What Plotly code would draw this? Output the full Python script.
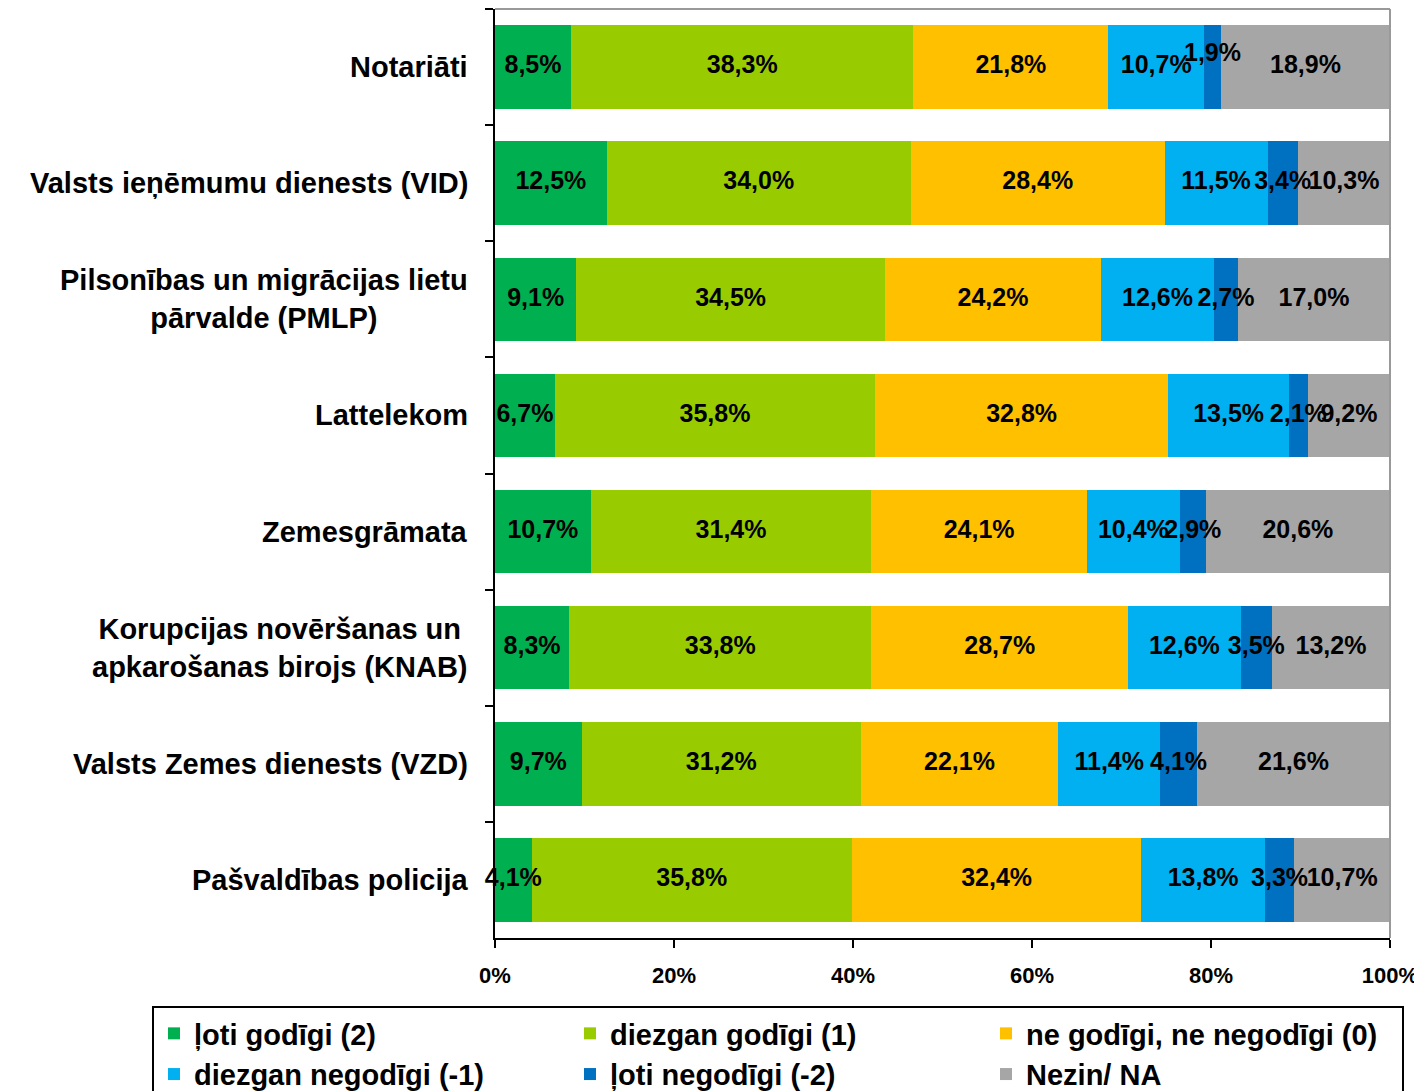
import plotly.graph_objects as go

categories = [
    "Notariāti",
    "Valsts ieņēmumu dienests (VID)",
    "Pilsonības un migrācijas lietu<br>pārvalde (PMLP)",
    "Lattelekom",
    "Zemesgrāmata",
    "Korupcijas novēršanas un<br>apkarošanas birojs (KNAB)",
    "Valsts Zemes dienests (VZD)",
    "Pašvaldības policija",
]

series_names = [
    "ļoti godīgi (2)",
    "diezgan godīgi (1)",
    "ne godīgi, ne negodīgi (0)",
    "diezgan negodīgi (-1)",
    "ļoti negodīgi (-2)",
    "Nezin/ NA",
]

loti_godigi = [8.5, 12.5, 9.1, 6.7, 10.7, 8.3, 9.7, 4.1]
diezgan_godigi = [38.3, 34.0, 34.5, 35.8, 31.4, 33.8, 31.2, 35.8]
ne_godigi_ne_negodigi = [21.8, 28.4, 24.2, 32.8, 24.1, 28.7, 22.1, 32.4]
diezgan_negodigi = [10.7, 11.5, 12.6, 13.5, 10.4, 12.6, 11.4, 13.8]
loti_negodigi = [1.9, 3.4, 2.7, 2.1, 2.9, 3.5, 4.1, 3.3]
nezin_na = [18.9, 10.3, 17.0, 9.2, 20.6, 13.2, 21.6, 10.7]

colors = ["#00B050", "#99CC00", "#FFC000", "#00B0F0", "#0070C0", "#A6A6A6"]

all_series = [loti_godigi, diezgan_godigi, ne_godigi_ne_negodigi,
              diezgan_negodigi, loti_negodigi, nezin_na]

FONT = "Liberation Sans, Arial, sans-serif"

fig = go.Figure()
for name, vals, col in zip(series_names, all_series, colors):
    fig.add_trace(go.Bar(
        y=categories,
        x=vals,
        name=name,
        orientation="h",
        marker=dict(color=col, line=dict(width=0)),
        textposition="none",
        hoverinfo="skip",
    ))

# data labels drawn on top of all bars, at segment midpoints (share of row total)
totals = [sum(s[i] for s in all_series) for i in range(len(categories))]
cum = [0.0] * len(categories)
for si, vals in enumerate(all_series):
    mids = []
    for i, v in enumerate(vals):
        mids.append((cum[i] + v / 2) / totals[i])
        cum[i] += v
    positions = ["middle center"] * len(vals)
    if si == 4:
        positions[0] = "top center"  # "1,9%" sits above its narrow segment
    fig.add_trace(go.Scatter(
        x=mids, y=categories, mode="text",
        text=[f"{v:.1f}%".replace(".", ",") for v in vals],
        textposition=positions,
        textfont=dict(family=FONT, size=25, color="black", weight="bold"),
        showlegend=False, hoverinfo="skip", cliponaxis=False,
    ))

# category labels (centered multi-line, right-anchored near axis)
for c in categories:
    fig.add_annotation(
        x=-25 / 895, xref="paper", y=c, yref="y",
        text=c, showarrow=False, xanchor="right", yanchor="middle",
        align="center",
        font=dict(family=FONT, size=29, color="black", weight="bold"),
    )

# page body has an 8px margin: figure is 1414x1083 placed at (8, 8)
fig.update_layout(
    width=1414, height=1083,
    margin=dict(l=487, r=32, t=1, b=153, autoexpand=False),
    barmode="stack",
    barnorm="fraction",
    bargap=0.28,
    plot_bgcolor="white",
    paper_bgcolor="white",
    showlegend=True,
    legend=dict(
        orientation="h",
        x=(152 - 495) / 895, xanchor="left",
        y=-(1006 - 938) / 929, yanchor="top",
        entrywidth=371, entrywidthmode="pixels",
        traceorder="normal",
        bordercolor="black", borderwidth=2,
        bgcolor="white",
        font=dict(family=FONT, size=29, color="black", weight="bold"),
    ),
    xaxis=dict(
        range=[0, 1], tickformat=".0%", dtick=0.2, tick0=0,
        showgrid=False, zeroline=False,
        showline=True, linecolor="black", linewidth=2,
        ticks="outside", ticklen=8, tickwidth=2, tickcolor="black",
        ticklabelstandoff=9,
        tickfont=dict(family=FONT, size=22, color="black", weight="bold"),
    ),
    yaxis=dict(
        autorange="reversed",
        showticklabels=False,
        showgrid=False, zeroline=False,
        showline=True, linecolor="black", linewidth=2,
        ticks="outside", tickson="boundaries", ticklen=8, tickwidth=2,
        tickcolor="black",
    ),
    shapes=[
        dict(type="line", xref="paper", yref="paper", x0=0, x1=1, y0=1, y1=1,
             line=dict(color="#999999", width=2)),
        dict(type="line", xref="paper", yref="paper", x0=1, x1=1, y0=0, y1=1,
             line=dict(color="#999999", width=2)),
    ],
)

fig.write_html("out.html")
